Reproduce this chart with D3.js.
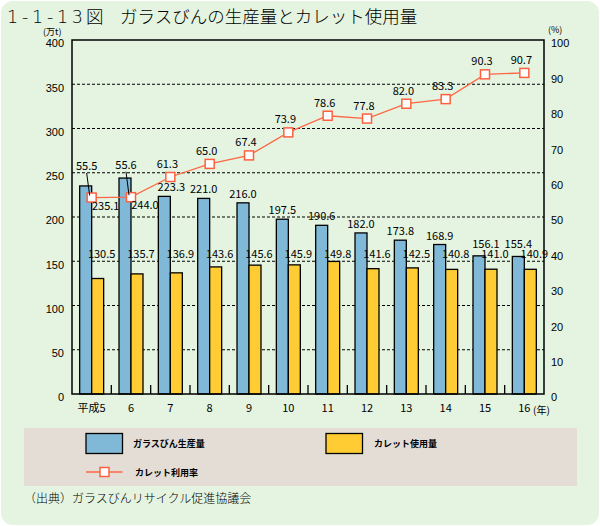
<!DOCTYPE html>
<html><head><meta charset="utf-8">
<script src="https://cdn.jsdelivr.net/npm/d3@7/dist/d3.min.js"></script>
<style>body{margin:0;background:#fff}svg{display:block}text{font-family:"Noto Sans CJK JP","Noto Sans",sans-serif;fill:#000}</style>
</head><body>
<script>
const categories = ["平成5","6","7","8","9","10","11","12","13","14","15","16"];
const production = [235.1,244.0,223.3,221.0,216.0,197.5,190.6,182.0,173.8,168.9,156.1,155.4];
const cullet = [130.5,135.7,136.9,143.6,145.6,145.9,149.8,141.6,142.5,140.8,141.0,140.9];
const rate = [55.5,55.6,61.3,65.0,67.4,73.9,78.6,77.8,82.0,83.3,90.3,90.7];
const leftTicks = [0,50,100,150,200,250,300,350,400];
const rightTicks = [0,10,20,30,40,50,60,70,80,90,100];
const seriesNames = ["ガラスびん生産量","カレット使用量","カレット利用率"];

const W=600,H=526;
const svg=d3.select("body").append("svg").attr("width",W).attr("height",H);
svg.append("rect").attr("x",1).attr("y",1).attr("width",W-2).attr("height",H-2).attr("rx",12).attr("fill","#E4F4E0");

const L=72,R=544,T=40,B=394;
const x=d3.scaleBand().domain(categories).range([L,R]).paddingInner(0).paddingOuter(0);
const x1=d3.scaleBand().domain(["p","c"]).range([0,x.bandwidth()]).paddingInner(0).paddingOuter(0.64);
const y=d3.scaleLinear().domain([0,400]).range([B,T]);
const y2=d3.scaleLinear().domain([0,100]).range([B,T]);

// title
const tt=svg.append("g").attr("font-size",17.5).attr("font-weight",300);
tt.append("text").attr("x",7).attr("y",23).attr("textLength",76).attr("lengthAdjust","spacing").style("font-family","'DejaVu Sans',sans-serif").style("font-weight",200).text("1-1-13");
tt.append("text").attr("x",86).attr("y",23).text("図");
tt.append("text").attr("x",120).attr("y",23).text("ガラスびんの生産量とカレット使用量");

// gridlines
svg.append("g").selectAll("line").data(leftTicks.filter(d=>d>0&&d<400)).join("line")
  .attr("x1",L).attr("x2",R).attr("y1",d=>y(d)).attr("y2",d=>y(d))
  .attr("stroke","#000").attr("stroke-width",1).attr("stroke-dasharray","3,2");

// axes
const ga=svg.append("g").attr("transform",`translate(${L},0)`).call(d3.axisLeft(y).tickValues(leftTicks).tickSize(0).tickPadding(8));
ga.select(".domain").remove();
ga.selectAll("text").attr("font-size",11).attr("dy","0.62em").style("font-family","'Liberation Sans',sans-serif");
const gr=svg.append("g").attr("transform",`translate(${R},0)`).call(d3.axisRight(y2).tickValues(rightTicks).tickSize(0).tickPadding(7));
gr.select(".domain").remove();
gr.selectAll("text").attr("font-size",11).attr("dy","0.62em").style("font-family","'Liberation Sans',sans-serif");
const gx=svg.append("g").attr("transform",`translate(0,${B})`).call(d3.axisBottom(x).tickSize(0).tickPadding(10));
gx.select(".domain").remove();
gx.selectAll("text").attr("font-size",11).style("font-family","'Noto Sans CJK JP',sans-serif");

svg.append("text").attr("x",43).attr("y",35).attr("font-size",9).text("(万t)");
svg.append("text").attr("x",548).attr("y",33).attr("font-size",9).text("(%)");
svg.append("text").attr("x",533).attr("y",414).attr("font-size",10).text("(年)");

// bars
const gb=svg.append("g");
gb.selectAll("rect.p").data(production).join("rect").attr("class","p")
  .attr("x",(d,i)=>x(categories[i])+x1("p")).attr("width",x1.bandwidth())
  .attr("y",d=>y(d)).attr("height",d=>B-y(d))
  .attr("fill","#80B8D8").attr("stroke","#000").attr("stroke-width",1.3);
gb.selectAll("rect.c").data(cullet).join("rect").attr("class","c")
  .attr("x",(d,i)=>x(categories[i])+x1("c")).attr("width",x1.bandwidth())
  .attr("y",d=>y(d)).attr("height",d=>B-y(d))
  .attr("fill","#FFCC33").attr("stroke","#000").attr("stroke-width",1.3);

// minor ticks at band boundaries
svg.append("g").selectAll("line").data(categories.slice(1)).join("line")
  .attr("x1",d=>x(d)).attr("x2",d=>x(d)).attr("y1",B-9).attr("y2",B)
  .attr("stroke","#000").attr("stroke-width",1.3);

// frame
svg.append("rect").attr("x",L).attr("y",T).attr("width",R-L).attr("height",B-T)
  .attr("fill","none").attr("stroke","#000").attr("stroke-width",1.5);

// line
const cx=i=>x(categories[i])+x.bandwidth()/2;
const line=d3.line().x((d,i)=>cx(i)).y(d=>y2(d));
svg.append("path").datum(rate).attr("d",line).attr("fill","none").attr("stroke","#FF6644").attr("stroke-width",1.3);
svg.append("g").selectAll("rect").data(rate).join("rect")
  .attr("x",(d,i)=>cx(i)-4.5).attr("y",d=>y2(d)-4.5).attr("width",9).attr("height",9)
  .attr("fill","#fff").attr("stroke","#FF6040").attr("stroke-width",1.5);

// labels
const lf=11;
const lbl=svg.append("g").attr("font-size",lf).style("font-family","'Liberation Sans',sans-serif");
production.forEach((v,i)=>{
  let px=x(categories[i])+x1("p")+x1.bandwidth()/2, py=y(v)-5;
  if(i<2){px=cx(i)+14; py=y2(rate[i])+12;}
  else if(i===2||i===10){px+=7;}
  if(i>=10) py-=3;
  lbl.append("text").attr("x",px).attr("y",py).attr("text-anchor","middle").text(v.toFixed(1));
});
cullet.forEach((v,i)=>{
  let px=x(categories[i])+x1("c")+x1.bandwidth()/2+6, py=y(Math.max(v,150))-3;
  if(v<150) px-=2;
  lbl.append("text").attr("x",px).attr("y",py).attr("text-anchor","middle").text(v.toFixed(1));
});
rate.forEach((v,i)=>{
  let px=cx(i)-3, py=y2(v)-9;
  if(i<2){
    px=cx(i)-5; py=y2(v)-(i===0?27.5:28.5);
    svg.append("line").attr("x1",px).attr("y1",py+3).attr("x2",cx(i)-2).attr("y2",y2(v)-2)
      .attr("stroke","#000").attr("stroke-width",1);
  }
  lbl.append("text").attr("x",px).attr("y",py).attr("text-anchor","middle").text(v.toFixed(1));
});

// legend
const lg=svg.append("g");
lg.append("rect").attr("x",24).attr("y",428).attr("width",553).attr("height",58).attr("fill","#E4DDD6");
lg.append("rect").attr("x",86).attr("y",433.5).attr("width",36.5).attr("height",20).attr("fill","#80B8D8").attr("stroke","#000").attr("stroke-width",1.3);
lg.append("rect").attr("x",326).attr("y",433.5).attr("width",36.5).attr("height",20).attr("fill","#FFCC33").attr("stroke","#000").attr("stroke-width",1.3);
lg.append("line").attr("x1",86).attr("x2",122.5).attr("y1",472).attr("y2",472).attr("stroke","#FF6644").attr("stroke-width",1.3);
lg.append("rect").attr("x",100).attr("y",467.5).attr("width",9).attr("height",9).attr("fill","#fff").attr("stroke","#FF6040").attr("stroke-width",1.5);
lg.append("text").attr("x",133).attr("y",447).attr("font-size",9).attr("font-weight","bold").text(seriesNames[0]);
lg.append("text").attr("x",374).attr("y",447).attr("font-size",9).attr("font-weight","bold").text(seriesNames[1]);
lg.append("text").attr("x",135).attr("y",476).attr("font-size",9).attr("font-weight","bold").text(seriesNames[2]);

svg.append("text").attr("x",24).attr("y",503).attr("font-size",12).attr("font-weight",300).text("（出典）ガラスびんリサイクル促進協議会");
</script>
</body></html>
